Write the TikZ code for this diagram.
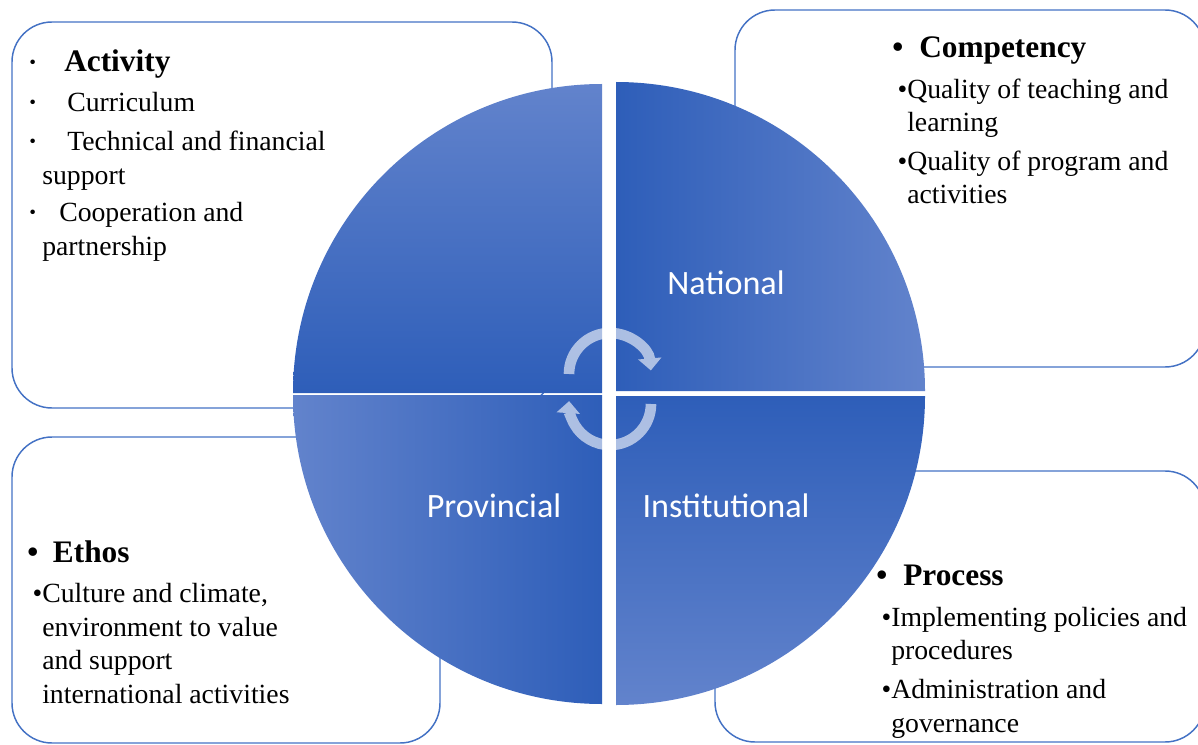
\documentclass[tikz,border=0pt]{standalone}
\usepackage{fontspec}
\setmainfont{Liberation Serif}
\newfontfamily\labelfont{Carlito}
\usetikzlibrary{arrows.meta}

\definecolor{boxblue}{RGB}{68,114,196}
\definecolor{pielight}{RGB}{98,131,204}
\definecolor{piedark}{RGB}{46,94,185}

\tikzset{
  box/.style={draw=boxblue, line width=1.1pt, rounded corners=30pt},
  % base west sits on the last line of the text
  boxtext/.style={anchor=base west, inner sep=0pt, align=left,
    font=\fontsize{20.8pt}{25.1pt}\selectfont},
  pielabel/.style={text=white, inner sep=0pt,
    font=\labelfont\fontsize{25.6pt}{30pt}\selectfont},
  cyclearrow/.style={white, line width=8pt, -{Triangle[length=9pt,width=17pt]}},
}

\newcommand{\headline}[1]{{\fontsize{23.5pt}{28pt}\selectfont\bfseries #1}}
\newcommand{\bul}{\leavevmode\llap{•}}
\newcommand{\hbul}{\leavevmode\llap{\headline{•}\hspace{3pt}}}
\newcommand{\dotmark}{\leavevmode\llap{\textbf{·}\hspace{3.75pt}}}

\begin{document}
\begin{tikzpicture}[x=0.75pt, y=-0.75pt]
\useasboundingbox (0,0) rectangle (1198,745);

% outer boxes
\draw[box] (12,22) rectangle (552,408);
\draw[box] (735,10) rectangle (1205,367);
\draw[box] (12,437) rectangle (440,743);
\draw[box] (715,471) rectangle (1205,742);

% pie quarters
\shade[top color=pielight, bottom color=piedark]
  (602,393) -- (293,393) arc[start angle=180, end angle=270, radius=309] -- cycle;
\shade[left color=piedark, right color=pielight]
  (616,391) -- (616,82) arc[start angle=270, end angle=360, radius=309] -- cycle;
\shade[top color=piedark, bottom color=pielight]
  (616,396) -- (925,396) arc[start angle=0, end angle=90, radius=309] -- cycle;
\shade[left color=pielight, right color=piedark]
  (602,395) -- (602,704) arc[start angle=90, end angle=180, radius=309] -- cycle;

% cycle arrows in the middle
\begin{scope}[transparency group, opacity=0.6]
\draw[cyclearrow] (569,374) arc[start angle=180, end angle=355, radius=41];
\draw[cyclearrow] (651,404) arc[start angle=0, end angle=184, radius=41];
\end{scope}

\node[pielabel] (national) at (726,283) {National};
\node[pielabel] (institutional) at (726,506) {Institutional};
\node[pielabel] (provincial) at (494,506) {Provincial};

% box texts
\node[boxtext] (activity) at (42,255) {%
\dotmark\hspace*{16.5pt}\headline{Activity}\\[4.9pt]
\dotmark\hspace*{18.75pt}Curriculum\\[4pt]
\dotmark\hspace*{18.75pt}Technical and financial\\
support\\[3pt]
\dotmark\hspace*{12.75pt}Cooperation and\\
partnership};

\node[boxtext] (competency) at (907,204) {%
\hbul\hspace*{9pt}\headline{Competency}\\[5.3pt]
\bul Quality of teaching and\\
learning\\[4pt]
\bul Quality of program and\\
activities};

\node[boxtext] (ethos) at (42,703) {%
\hbul\hspace*{8pt}\headline{Ethos}\\[5.3pt]
\bul Culture and climate,\\
environment to value\\
and support\\
international activities};

\node[boxtext] (process) at (891,732) {%
\hbul\hspace*{9pt}\headline{Process}\\[5.3pt]
\bul Implementing policies and\\
procedures\\[4pt]
\bul Administration and\\
governance};
\end{tikzpicture}
\end{document}
